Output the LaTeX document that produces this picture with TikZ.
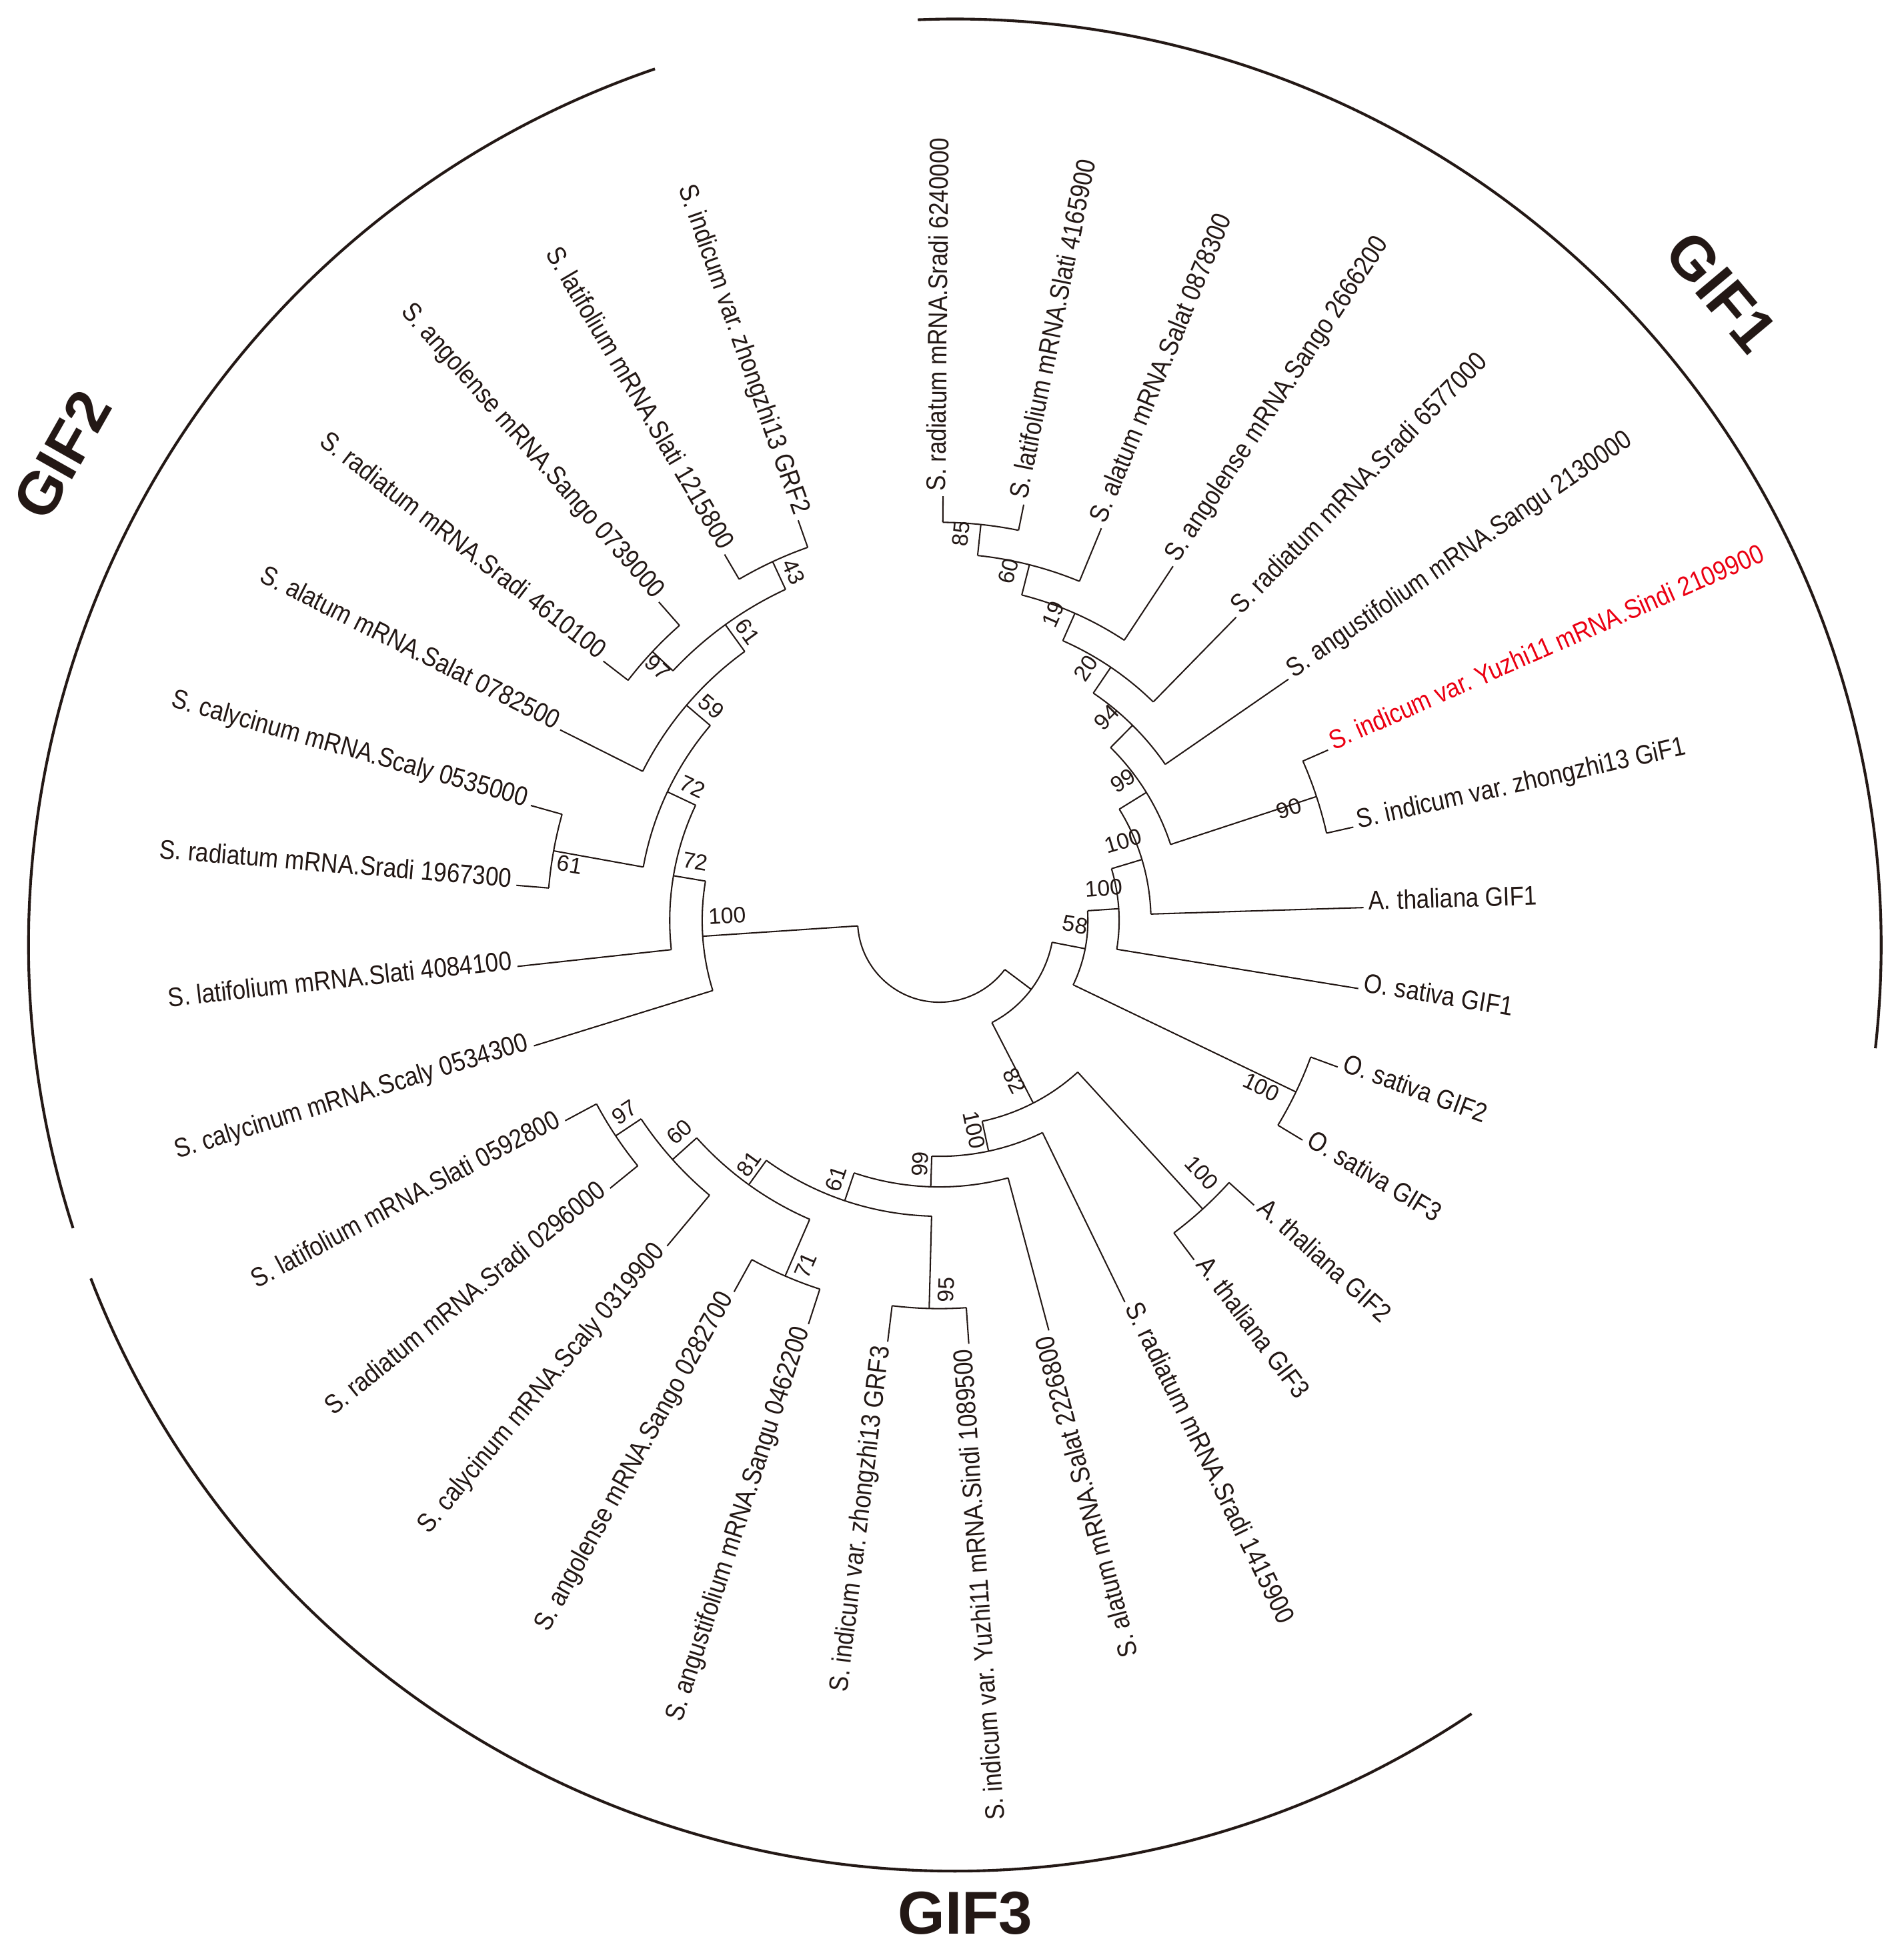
\documentclass[tikz,border=0pt]{standalone}
\usepackage{fontspec}
\setmainfont{Liberation Sans}[FakeStretch=0.87]
\newfontfamily\bsfont{Liberation Sans}
\definecolor{ink}{RGB}{35,24,21}
\definecolor{hl}{RGB}{235,0,18}
% tree helpers
\newcommand\TrN[4]{\coordinate (#1) at (#2:#3pt); \coordinate (#1-b) at (#2:#4pt); \draw[tree] (#1-b) -- (#1);}
\newcommand\TrArc[4]{\draw[tree] (#1-b) arc[start angle=#2, end angle=#3, radius=#4pt];}
\newcommand\LfR[4]{\TrN{#1}{#2}{340}{#3}\node[leaf, anchor=base west, rotate=#2] (#1-t) at ([shift={(#2-90:2pt)}] #2:344pt) {#4};}
\newcommand\LfL[4]{\TrN{#1}{#2}{340}{#3}\node[leaf, anchor=base east, rotate=#2+180] (#1-t) at ([shift={(#2+90:2pt)}] #2:344pt) {#4};}
\newcommand\Bs[5]{\node[boot, rotate=#4] (#1) at (#2pt,#3pt) {#5};}
\begin{document}
\frenchspacing
\begin{tikzpicture}[x=1pt,y=1pt,
  tree/.style={draw=ink, line width=1.1pt},
  outer/.style={draw=ink, line width=2.2pt},
  leaf/.style={inner sep=0pt, text=ink, font=\frenchspacing\fontsize{21.5pt}{24pt}\selectfont},
  boot/.style={inner sep=0pt, text=ink, font=\bsfont\fontsize{18pt}{20pt}\selectfont},
  gif/.style={inner sep=0pt, text=ink, font=\bsfont\bfseries\fontsize{48.5pt}{55pt}\selectfont}]
\useasboundingbox (-752.5pt,-830.5pt) rectangle (772.5pt,737.5pt);
\coordinate (root) at (0,0);
% root
\TrN{nG2}{183.82}{190}{65.5}
\TrN{nR}{-36.88}{92}{65.5}
\TrArc{nG2}{183.82}{323.12}{65.5}
% nR
\TrN{n58}{-10.965}{119}{92}
\TrN{n82}{-62.795}{164.5}{92}
\TrArc{n58}{-10.965}{-62.795}{92}
% n58
\TrN{n100b}{3.755}{144}{119}
\TrN{nOs}{-25.685}{317}{119}
\TrArc{n100b}{3.755}{-25.685}{119}
% n100b
\TrN{n100a}{16.74}{169.5}{144}
\LfR{L10}{-9.23}{144}{O. sativa GIF1}
\TrArc{n100a}{16.74}{-9.23}{144}
% n100a
\TrN{n99}{31.74}{195}{169.5}
\LfR{L9}{1.74}{169.5}{A. thaliana GIF1}
\TrArc{n99}{31.74}{1.74}{169.5}
% n99
\TrN{n94}{45.28}{220}{195}
\TrN{n90}{18.195}{318}{195}
\TrArc{n94}{45.28}{18.195}{195}
% n94
\TrN{n20}{55.90}{245}{220}
\LfR{L6}{34.65}{220}{S. angustifolium mRNA.Sangu 2130000}
\TrArc{n20}{55.90}{34.65}{220}
% n20
\TrN{n19}{66.19}{269}{245}
\LfR{L5}{45.62}{245}{S. radiatum mRNA.Sradi 6577000}
\TrArc{n19}{66.19}{45.62}{245}
% n19
\TrN{n60}{75.79}{294}{269}
\LfR{L4}{56.59}{269}{S. angolense mRNA.Sango 2666200}
\TrArc{n60}{75.79}{56.59}{269}
% n60
\TrN{n85}{84.015}{319}{294}
\LfR{L3}{67.56}{294}{S. alatum mRNA.Salat 0878300}
\TrArc{n85}{84.015}{67.56}{294}
% n85
\LfR{L1}{89.5}{319}{S. radiatum mRNA.Sradi 6240000}
\LfR{L2}{78.53}{319}{S. latifolium mRNA.Slati 4165900}
\TrArc{L1}{89.5}{78.53}{319}
% n90
\LfR{L7}{23.68}{318}{\textcolor{hl}{S. indicum var. Yuzhi11 mRNA.Sindi 2109900}}
\LfR{L8}{12.71}{318}{S. indicum var. zhongzhi13 GiF1}
\TrArc{L7}{23.68}{12.71}{318}
% nOs
\LfR{L11}{-20.2}{317}{O. sativa GIF2}
\LfR{L12}{-31.17}{317}{O. sativa GIF3}
\TrArc{L11}{-20.2}{-31.17}{317}
% n82
\TrN{nAt}{-47.625}{313}{164.5}
\TrN{n100c}{-77.965}{189}{164.5}
\TrArc{nAt}{-47.625}{-77.965}{164.5}
% nAt
\LfR{L13}{-42.14}{313}{A. thaliana GIF2}
\LfR{L14}{-53.11}{313}{A. thaliana GIF3}
\TrArc{L13}{-42.14}{-53.11}{313}
% n100c
\LfR{L15}{-64.08}{189}{S. radiatum mRNA.Sradi 1415900}
\TrN{n99g}{-91.85}{213.5}{189}
\TrArc{L15}{-64.08}{-91.85}{189}
% n99g
\LfL{L16}{-75.05}{213.5}{S. alatum mRNA.Salat 2226800}
\TrN{n61g}{-108.65}{237}{213.5}
\TrArc{L16}{-75.05}{-108.65}{213.5}
% n61g
\TrN{n95}{-91.505}{311}{237}
\TrN{n81}{-125.79}{261}{237}
\TrArc{n95}{-91.505}{-125.79}{237}
% n95
\LfL{L17}{-86.02}{311}{S. indicum var. Yuzhi11 mRNA.Sindi 1089500}
\LfL{L18}{-96.99}{311}{S. indicum var. zhongzhi13 GRF3}
\TrArc{L17}{-86.02}{-96.99}{311}
% n81
\TrN{n71}{-113.445}{310.5}{261}
\TrN{n60g}{-138.13}{287}{261}
\TrArc{n71}{-113.445}{-138.13}{261}
% n71
\LfL{L19}{-107.96}{310.5}{S. angustifolium mRNA.Sangu 0462200}
\LfL{L20}{-118.93}{310.5}{S. angolense mRNA.Sango 0282700}
\TrArc{L19}{-107.96}{-118.93}{310.5}
% n60g
\LfL{L21}{-129.9}{287}{S. calycinum mRNA.Scaly 0319900}
\TrN{n97g}{-146.355}{311.5}{287}
\TrArc{L21}{-129.9}{-146.355}{287}
% n97g
\LfL{L22}{-140.87}{311.5}{S. radiatum mRNA.Sradi 0296000}
\LfL{L23}{-151.84}{311.5}{S. latifolium mRNA.Slati 0592800}
\TrArc{L22}{-140.87}{-151.84}{311.5}
% nG2
\LfL{L24}{197.19}{190}{S. calycinum mRNA.Scaly 0534300}
\TrN{n72L}{170.45}{216}{190}
\TrArc{L24}{197.19}{170.45}{190}
% n72L
\LfL{L25}{186.22}{216}{S. latifolium mRNA.Slati 4084100}
\TrN{n72U}{154.68}{241}{216}
\TrArc{L25}{186.22}{154.68}{216}
% n72U
\TrN{n61b}{169.765}{314}{241}
\TrN{n59}{139.5975}{266}{241}
\TrArc{n61b}{169.765}{139.5975}{241}
% n61b
\LfL{L26}{175.25}{314}{S. radiatum mRNA.Sradi 1967300}
\LfL{L27}{164.28}{314}{S. calycinum mRNA.Scaly 0535000}
\TrArc{L26}{175.25}{164.28}{314}
% n59
\LfL{L28}{153.31}{266}{S. alatum mRNA.Salat 0782500}
\TrN{n61}{125.885}{292.5}{266}
\TrArc{L28}{153.31}{125.885}{266}
% n61
\TrN{n97}{136.855}{315}{292.5}
\TrN{n43}{114.915}{317}{292.5}
\TrArc{n97}{136.855}{114.915}{292.5}
% n97
\LfL{L29}{142.34}{315}{S. radiatum mRNA.Sradi 4610100}
\LfL{L30}{131.37}{315}{S. angolense mRNA.Sango 0739000}
\TrArc{L29}{142.34}{131.37}{315}
% n43
\LfL{L31}{120.4}{317}{S. latifolium mRNA.Slati 1215800}
\LfL{L32}{109.43}{317}{S. indicum var. zhongzhi13 GRF2}
\TrArc{L31}{120.4}{109.43}{317}
% bootstrap values
\Bs{b85}{17.2}{309.7}{84.0}{85}
\Bs{b60}{55.3}{280.1}{75.8}{60}
\Bs{b19}{91.1}{245.3}{66.2}{19}
\Bs{b20}{117.3}{202.0}{55.9}{20}
\Bs{b94}{134.0}{162.9}{45.3}{94}
\Bs{b99}{147.1}{112.2}{31.7}{99}
\Bs{b90}{280.2}{89.5}{18.2}{90}
\Bs{b100a}{147.1}{63.6}{16.7}{100}
\Bs{b100b}{131.6}{25.9}{3.8}{100}
\Bs{b58}{109.0}{-3.5}{-11}{58}
\Bs{b100Os}{258.0}{-133.6}{-25.7}{100}
\Bs{b100At}{210.3}{-202.2}{-47.6}{100}
\Bs{b82}{60.1}{-128.6}{-62.8}{82}
\Bs{b100c}{27.9}{-167.9}{-78}{100}
\Bs{b99g}{-15.3}{-195.1}{88.15}{99}
\Bs{b95}{5.5}{-295.9}{88.5}{95}
\Bs{b61g}{-82.6}{-207.0}{71.35}{61}
\Bs{b81}{-152.5}{-195.1}{54.2}{81}
\Bs{b71}{-107.2}{-276.2}{66.55}{71}
\Bs{b60g}{-208.2}{-169.5}{41.9}{60}
\Bs{b97g}{-252.2}{-153.7}{33.6}{97}
\Bs{b100G2}{-170.0}{3.8}{3.8}{100}
\Bs{b72L}{-195.5}{47.4}{-9.55}{72}
\Bs{b61b}{-296.2}{44.7}{-10.2}{61}
\Bs{b72U}{-197.8}{107.4}{-25.3}{72}
\Bs{b59}{-182.7}{171.4}{-40.4}{59}
\Bs{b97}{-225.6}{202.8}{-43.1}{97}
\Bs{b61}{-153.8}{231.4}{-54.1}{61}
\Bs{b43}{-116.7}{279.1}{-65.1}{43}
% outer group arcs
\coordinate (oc) at (12.5pt,-19.7pt);
\draw[outer] (oc) ++(92.3:742pt) arc[start angle=92.3, end angle=-6.4, radius=742pt];
\draw[outer] (oc) ++(108.9:742pt) arc[start angle=108.9, end angle=197.8, radius=742pt];
\draw[outer] (oc) ++(201.1:742pt) arc[start angle=201.1, end angle=303.9, radius=742pt];
\node[gif, rotate=-50] (GIF1) at (626.6pt,503.4pt) {GIF1};
\node[gif, rotate=60.5] (GIF2) at (-702.6pt,372.9pt) {GIF2};
\node[gif] (GIF3) at (20.7pt,-795.2pt) {GIF3};
\end{tikzpicture}
\end{document}
